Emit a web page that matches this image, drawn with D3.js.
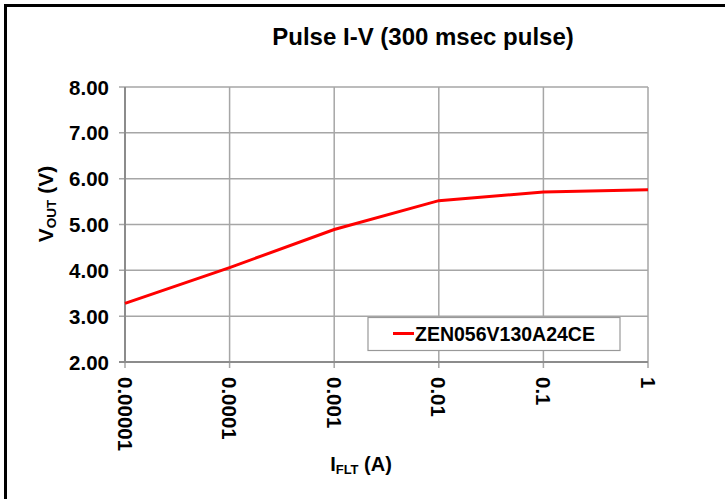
<!DOCTYPE html>
<html>
<head>
<meta charset="utf-8">
<script src="https://cdn.jsdelivr.net/npm/d3@7"></script>
<style>
  body { margin: 0; background: #fff; }
  text { font-family: "Liberation Sans", Arial, sans-serif; font-weight: bold; fill: #000; }
</style>
</head>
<body>
<div class="plot"></div>
<script>
// pulse I-V data
var currents = [0.00001, 0.0001, 0.001, 0.01, 0.1, 1];
var volts = [3.28, 4.06, 4.89, 5.52, 5.71, 5.76];
var xTicks = [0.00001, 0.0001, 0.001, 0.01, 0.1, 1];
var xTickLabels = ["0.00001", "0.0001", "0.001", "0.01", "0.1", "1"];
var yTicks = [2, 3, 4, 5, 6, 7, 8];
var seriesName = "ZEN056V130A24CE";

var W = 725, H = 499;
var plotLeft = 125, plotRight = 648, plotTop = 87, plotBottom = 362;

var svg = d3.select(".plot").append("svg")
  .attr("width", W)
  .attr("height", H);

// frame, only top and left edges show
svg.append("rect")
  .attr("x", 5.5).attr("y", 5.5)
  .attr("width", W + 20).attr("height", H + 20)
  .style("fill", "none")
  .style("stroke", "#000")
  .style("stroke-width", 3);

var x = d3.scaleLog().domain([0.00001, 1]).range([plotLeft, plotRight]);
var y = d3.scaleLinear().domain([2, 8]).range([plotBottom, plotTop]);

// grid
svg.append("g").selectAll("line")
  .data(yTicks)
  .enter().append("line")
  .attr("x1", plotLeft - 6).attr("x2", plotRight)
  .attr("y1", function(d) { return y(d); })
  .attr("y2", function(d) { return y(d); })
  .style("stroke", "#a6a6a6")
  .style("stroke-width", 1.5);

svg.append("g").selectAll("line")
  .data(xTicks)
  .enter().append("line")
  .attr("x1", function(d) { return x(d); })
  .attr("x2", function(d) { return x(d); })
  .attr("y1", plotTop).attr("y2", plotBottom + 6)
  .style("stroke", "#a6a6a6")
  .style("stroke-width", 1.5);

// axis lines
svg.append("line")
  .attr("x1", plotLeft - 6).attr("x2", plotRight)
  .attr("y1", plotBottom).attr("y2", plotBottom)
  .style("stroke", "#8c8c8c").style("stroke-width", 2);
svg.append("line")
  .attr("x1", plotLeft).attr("x2", plotLeft)
  .attr("y1", plotTop).attr("y2", plotBottom)
  .style("stroke", "#8c8c8c").style("stroke-width", 2);

// y tick labels
svg.append("g").selectAll("text")
  .data(yTicks)
  .enter().append("text")
  .attr("x", plotLeft - 16)
  .attr("y", function(d) { return y(d) + 7.5; })
  .style("text-anchor", "end")
  .style("font-size", "20.5px")
  .text(function(d) { return d3.format(".2f")(d); });

// x tick labels, rotated
svg.append("g").selectAll("text")
  .data(xTicks)
  .enter().append("text")
  .attr("transform", function(d) { return "translate(" + (x(d) - 7.5) + "," + (plotBottom + 15) + ") rotate(90)"; })
  .style("font-size", "20.5px")
  .text(function(d, i) { return xTickLabels[i]; });

// series line
var line = d3.line()
  .x(function(d, i) { return x(currents[i]); })
  .y(function(d) { return y(d); });

svg.append("path")
  .datum(volts)
  .attr("d", line)
  .style("fill", "none")
  .style("stroke", "#ff0000")
  .style("stroke-width", 3);

// legend
var legend = svg.append("g");
legend.append("rect")
  .attr("x", 368).attr("y", 317.5)
  .attr("width", 252).attr("height", 33)
  .style("fill", "#fff")
  .style("stroke", "#999")
  .style("stroke-width", 1.2);
legend.append("line")
  .attr("x1", 393).attr("x2", 414)
  .attr("y1", 333.5).attr("y2", 333.5)
  .style("stroke", "#ff0000")
  .style("stroke-width", 3);
legend.append("text")
  .attr("x", 415).attr("y", 341)
  .style("font-size", "19.5px")
  .text(seriesName);

// title
svg.append("text")
  .attr("x", 423).attr("y", 45)
  .style("text-anchor", "middle")
  .style("font-size", "24px")
  .text("Pulse I-V (300 msec pulse)");

// y axis title
var yt = svg.append("text")
  .attr("transform", "translate(53,204) rotate(-90)")
  .style("text-anchor", "middle")
  .style("font-size", "21px");
yt.append("tspan").text("V");
yt.append("tspan").attr("dy", 3).style("font-size", "13.5px").text("OUT");
yt.append("tspan").attr("dy", -3).text(" (V)");

// x axis title
var xt = svg.append("text")
  .attr("x", 361).attr("y", 471)
  .style("text-anchor", "middle")
  .style("font-size", "20px");
xt.append("tspan").text("I");
xt.append("tspan").attr("dy", 3).style("font-size", "13px").text("FLT");
xt.append("tspan").attr("dy", -3).text(" (A)");
</script>
</body>
</html>
